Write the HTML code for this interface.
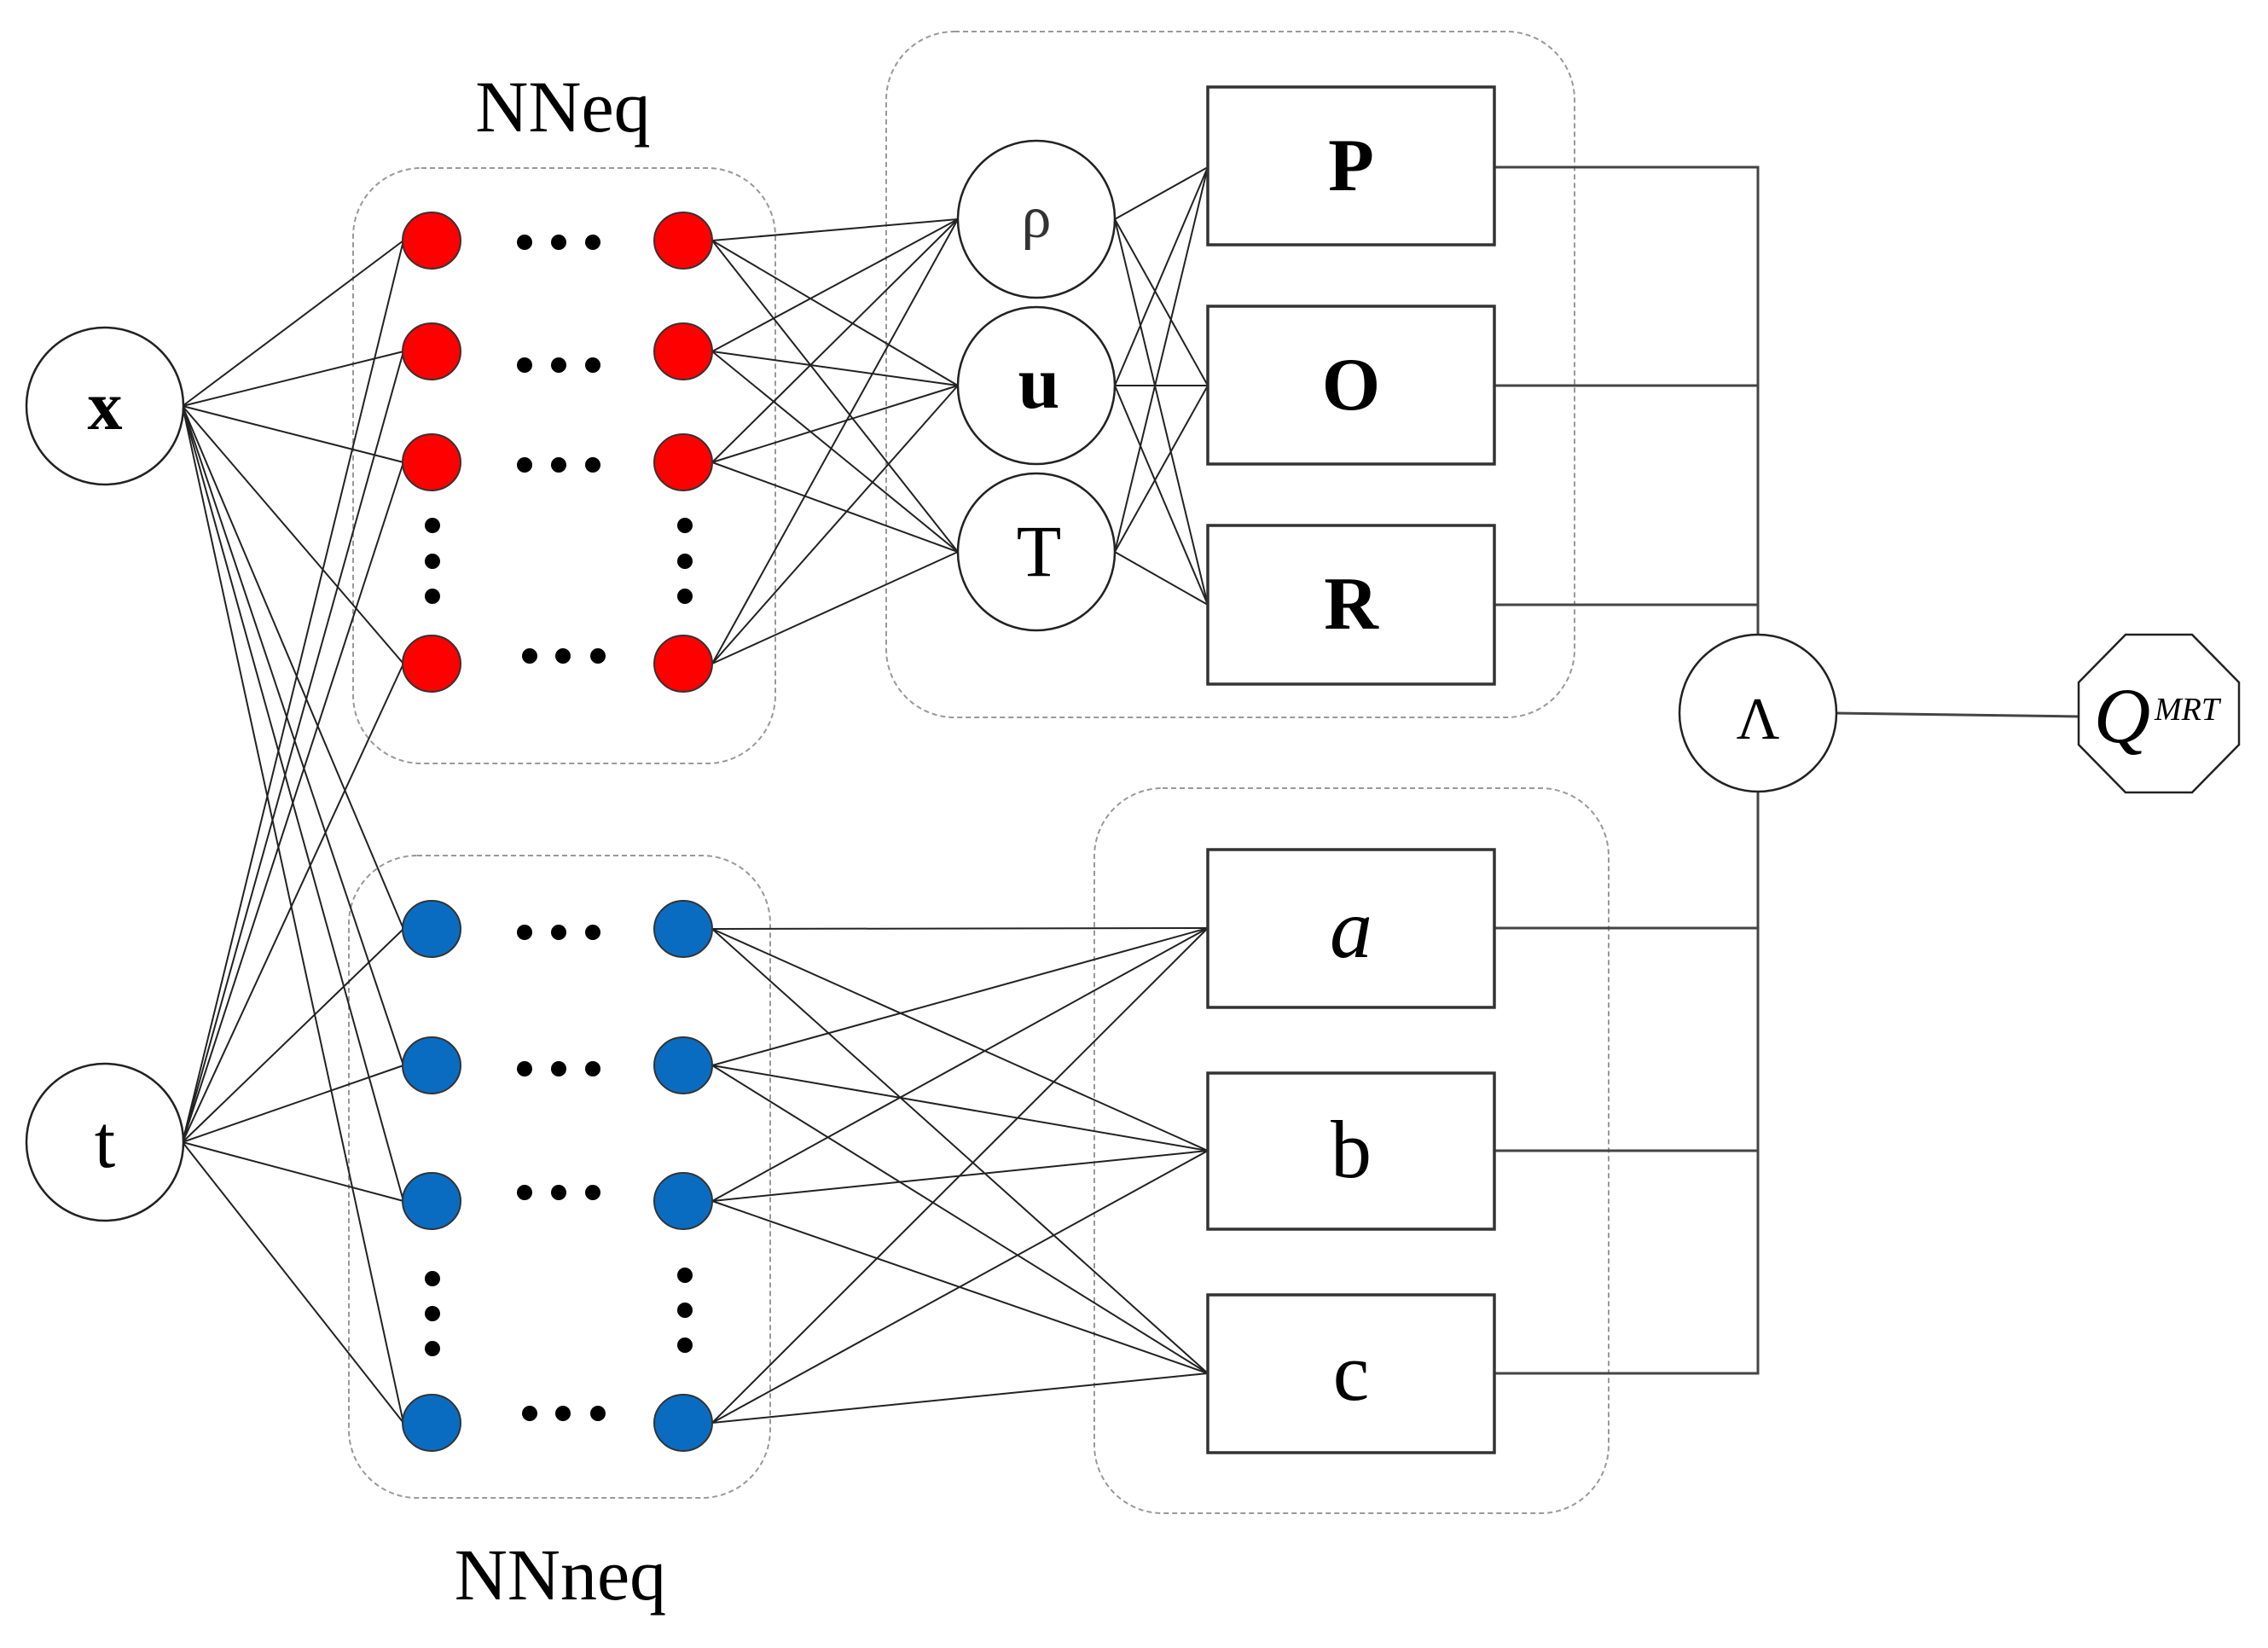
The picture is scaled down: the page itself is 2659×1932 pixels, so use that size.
<!DOCTYPE html>
<html><head><meta charset="utf-8"><style>html,body{margin:0;padding:0;background:#fff}svg{display:block}</style></head>
<body>
<svg width="2659" height="1932" viewBox="0 0 2659 1932" xmlns="http://www.w3.org/2000/svg" font-family="Liberation Serif, serif">
<!-- dashed groups -->
<g fill="none" stroke="#999" stroke-width="2" stroke-dasharray="6,4">
<rect x="414" y="197" width="495" height="698" rx="80"/>
<rect x="1039" y="37" width="807" height="804" rx="80"/>
<rect x="409" y="1003" width="494" height="753" rx="80"/>
<rect x="1283" y="924" width="603" height="850" rx="80"/>
</g>
<g stroke="#222" stroke-width="2" fill="none" id="conn">
<!-- x to left nodes -->
<line x1="214" y1="476" x2="473" y2="282"/><line x1="214" y1="476" x2="473" y2="412"/><line x1="214" y1="476" x2="473" y2="542"/><line x1="214" y1="476" x2="473" y2="778"/>
<line x1="214" y1="476" x2="473" y2="1089"/><line x1="214" y1="476" x2="473" y2="1249"/><line x1="214" y1="476" x2="473" y2="1408"/><line x1="214" y1="476" x2="473" y2="1668"/>
<!-- t to left nodes -->
<line x1="214" y1="1339" x2="473" y2="282"/><line x1="214" y1="1339" x2="473" y2="412"/><line x1="214" y1="1339" x2="473" y2="542"/><line x1="214" y1="1339" x2="473" y2="778"/>
<line x1="214" y1="1339" x2="473" y2="1089"/><line x1="214" y1="1339" x2="473" y2="1249"/><line x1="214" y1="1339" x2="473" y2="1408"/><line x1="214" y1="1339" x2="473" y2="1668"/>
<!-- red right to rho,u,T -->
<line x1="835" y1="282" x2="1123" y2="257"/><line x1="835" y1="282" x2="1123" y2="452"/><line x1="835" y1="282" x2="1123" y2="647"/>
<line x1="835" y1="412" x2="1123" y2="257"/><line x1="835" y1="412" x2="1123" y2="452"/><line x1="835" y1="412" x2="1123" y2="647"/>
<line x1="835" y1="542" x2="1123" y2="257"/><line x1="835" y1="542" x2="1123" y2="452"/><line x1="835" y1="542" x2="1123" y2="647"/>
<line x1="835" y1="778" x2="1123" y2="257"/><line x1="835" y1="778" x2="1123" y2="452"/><line x1="835" y1="778" x2="1123" y2="647"/>
<!-- rho,u,T to P,O,R -->
<line x1="1307" y1="257" x2="1416" y2="196"/><line x1="1307" y1="257" x2="1416" y2="452"/><line x1="1307" y1="257" x2="1416" y2="709"/>
<line x1="1307" y1="452" x2="1416" y2="196"/><line x1="1307" y1="452" x2="1416" y2="452"/><line x1="1307" y1="452" x2="1416" y2="709"/>
<line x1="1307" y1="647" x2="1416" y2="196"/><line x1="1307" y1="647" x2="1416" y2="452"/><line x1="1307" y1="647" x2="1416" y2="709"/>
<!-- blue right to a,b,c -->
<line x1="835" y1="1089" x2="1416" y2="1088"/><line x1="835" y1="1089" x2="1416" y2="1349"/><line x1="835" y1="1089" x2="1416" y2="1610"/>
<line x1="835" y1="1249" x2="1416" y2="1088"/><line x1="835" y1="1249" x2="1416" y2="1349"/><line x1="835" y1="1249" x2="1416" y2="1610"/>
<line x1="835" y1="1408" x2="1416" y2="1088"/><line x1="835" y1="1408" x2="1416" y2="1349"/><line x1="835" y1="1408" x2="1416" y2="1610"/>
<line x1="835" y1="1668" x2="1416" y2="1088"/><line x1="835" y1="1668" x2="1416" y2="1349"/><line x1="835" y1="1668" x2="1416" y2="1610"/>
</g>
<!-- bus -->
<g stroke="#444" stroke-width="3" fill="none">
<polyline points="1752,196 2061,196 2061,744"/>
<line x1="1752" y1="452" x2="2061" y2="452"/>
<line x1="1752" y1="709" x2="2061" y2="709"/>
<polyline points="1752,1088 2061,1088 2061,929"/>
<polyline points="1752,1349 2061,1349"/>
<polyline points="1752,1610 2061,1610 2061,1088"/>
<line x1="2153" y1="836" x2="2437" y2="840"/>
</g>
<!-- circles -->
<g fill="#fff" stroke="#222" stroke-width="2.5">
<circle cx="123" cy="476" r="92"/><circle cx="123" cy="1339" r="92"/>
<circle cx="1215" cy="257" r="92"/><circle cx="1215" cy="452" r="92"/><circle cx="1215" cy="647" r="92"/>
<circle cx="2061" cy="836" r="92"/>
<polygon points="2492,744 2570,744 2625,800 2625,873 2570,929 2492,929 2437,873 2437,800"/>
</g>
<g fill="#fff" stroke="#333" stroke-width="3.5">
<rect x="1416" y="102" width="336" height="185"/><rect x="1416" y="359" width="336" height="185"/><rect x="1416" y="616" width="336" height="186"/>
<rect x="1416" y="996" width="336" height="185"/><rect x="1416" y="1258" width="336" height="183"/><rect x="1416" y="1518" width="336" height="185"/>
</g>
<!-- nodes -->
<g fill="#f00" stroke="#333" stroke-width="2">
<ellipse cx="506" cy="282" rx="34" ry="33"/><ellipse cx="506" cy="412" rx="34" ry="33"/><ellipse cx="506" cy="542" rx="34" ry="33"/><ellipse cx="506" cy="778" rx="34" ry="33"/>
<ellipse cx="801" cy="282" rx="34" ry="33"/><ellipse cx="801" cy="412" rx="34" ry="33"/><ellipse cx="801" cy="542" rx="34" ry="33"/><ellipse cx="801" cy="778" rx="34" ry="33"/>
</g>
<g fill="#0a6cc0" stroke="#333" stroke-width="2">
<ellipse cx="506" cy="1089" rx="34" ry="33"/><ellipse cx="506" cy="1249" rx="34" ry="33"/><ellipse cx="506" cy="1408" rx="34" ry="33"/><ellipse cx="506" cy="1668" rx="34" ry="33"/>
<ellipse cx="801" cy="1089" rx="34" ry="33"/><ellipse cx="801" cy="1249" rx="34" ry="33"/><ellipse cx="801" cy="1408" rx="34" ry="33"/><ellipse cx="801" cy="1668" rx="34" ry="33"/>
</g>
<!-- dots -->
<g fill="#000">
<circle cx="615" cy="284" r="9"/><circle cx="655" cy="284" r="9"/><circle cx="695" cy="284" r="9"/>
<circle cx="615" cy="428" r="9"/><circle cx="655" cy="428" r="9"/><circle cx="695" cy="428" r="9"/>
<circle cx="615" cy="545" r="9"/><circle cx="655" cy="545" r="9"/><circle cx="695" cy="545" r="9"/>
<circle cx="621" cy="769" r="9"/><circle cx="660" cy="769" r="9"/><circle cx="701" cy="769" r="9"/>
<circle cx="507" cy="616" r="9"/><circle cx="507" cy="658" r="9"/><circle cx="507" cy="699" r="9"/>
<circle cx="803" cy="616" r="9"/><circle cx="803" cy="658" r="9"/><circle cx="803" cy="699" r="9"/>
<circle cx="615" cy="1093" r="9"/><circle cx="655" cy="1093" r="9"/><circle cx="695" cy="1093" r="9"/>
<circle cx="615" cy="1253" r="9"/><circle cx="655" cy="1253" r="9"/><circle cx="695" cy="1253" r="9"/>
<circle cx="615" cy="1398" r="9"/><circle cx="655" cy="1398" r="9"/><circle cx="695" cy="1398" r="9"/>
<circle cx="621" cy="1657" r="9"/><circle cx="660" cy="1657" r="9"/><circle cx="701" cy="1657" r="9"/>
<circle cx="507" cy="1499" r="9"/><circle cx="507" cy="1540" r="9"/><circle cx="507" cy="1581" r="9"/>
<circle cx="803" cy="1495" r="9"/><circle cx="803" cy="1536" r="9"/><circle cx="803" cy="1577" r="9"/>
</g>
<!-- labels -->
<g text-anchor="middle" fill="#000">
<text x="660" y="154" font-size="86">NNeq</text>
<text x="657" y="1875" font-size="86">NNneq</text>
<text x="123" y="503" font-size="82" font-weight="bold">x</text>
<text x="123" y="1368" font-size="88">t</text>
<text x="1215" y="278" font-size="70" fill="#333">ρ</text>
<text x="1218" y="478" font-size="88" font-weight="bold">u</text>
<text x="1218" y="675" font-size="86">T</text>
<text x="1584" y="223" font-size="88" font-weight="bold">P</text>
<text x="1584" y="480" font-size="88" font-weight="bold">O</text>
<text x="1584" y="737" font-size="88" font-weight="bold">R</text>
<text x="1584" y="1122" font-size="100" font-style="italic">a</text>
<text x="1584" y="1380" font-size="96">b</text>
<text x="1584" y="1641" font-size="96">c</text>
<text x="2061" y="866" font-size="70">Λ</text>
<text x="2488" y="870" font-size="92" font-style="italic">Q</text>
<text x="2564" y="844" font-size="38" font-style="italic">MRT</text>
</g>
</svg>
</body></html>
